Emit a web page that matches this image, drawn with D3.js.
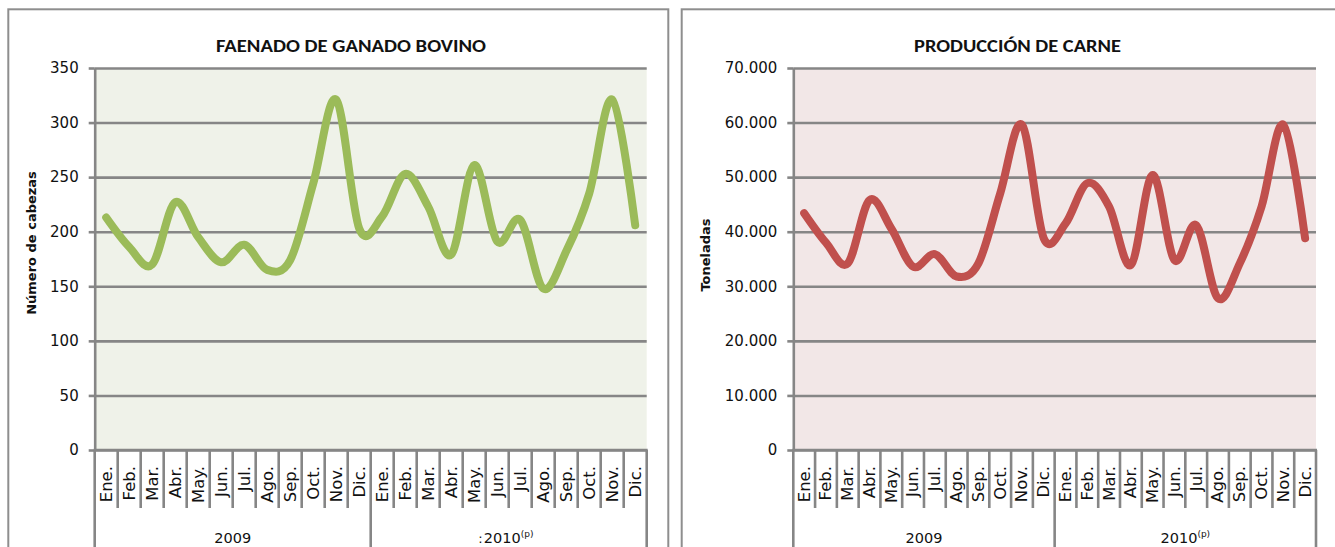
<!DOCTYPE html>
<html>
<head>
<meta charset="utf-8">
<script src="https://cdn.jsdelivr.net/npm/d3@7"></script>
<style>
  html, body { margin: 0; padding: 0; background: #ffffff; }
  svg { display: block; }
</style>
</head>
<body>
<svg id="chart" width="1335" height="547"></svg>
<script>
// ---- data ----
const months = ["Ene.","Feb.","Mar.","Abr.","May.","Jun.","Jul.","Ago.","Sep.","Oct.","Nov.","Dic."];
const years = ["2009", "2010"];
const faenado = [213,186,170,227,195,172,188,165,174,244,321,203, 214,253,223,179,261,191,211,148,182,235,321,206];
const carne = [43400,38000,34200,45800,40600,33600,35900,31800,34200,47000,59600,38800, 41500,48900,44600,33900,50400,34800,41200,27800,34200,44600,59600,38800];
const faenadoTicks = [0,50,100,150,200,250,300,350];
const carneTicks = [0,10000,20000,30000,40000,50000,60000,70000];
const titles = ["FAENADO DE GANADO BOVINO", "PRODUCCIÓN DE CARNE"];
const yTitles = ["Número de cabezas", "Toneladas"];

const locale = d3.formatLocale({decimal: ",", thousands: ".", grouping: [3], currency: ["", ""]});
const fmt = locale.format(",d");

const svg = d3.select("#chart");
const cats = [];
years.forEach(y => months.forEach(m => cats.push(y + "-" + m)));

const AX = "#868686";
const FONT = "'DejaVu Sans', Verdana, sans-serif";

function panel(cfg) {
  const g = svg.append("g");
  // border
  g.append("rect")
    .attr("x", cfg.bx).attr("y", cfg.by)
    .attr("width", cfg.br - cfg.bx).attr("height", 600)
    .attr("fill", "#fff").attr("stroke", "#8e8e8e").attr("stroke-width", 2);

  const x = d3.scaleBand().domain(cats).range([cfg.x0, cfg.x1]);
  const y = d3.scaleLinear().domain([0, cfg.ticks[cfg.ticks.length - 1]]).range([cfg.y1, cfg.y0]);
  const w = cfg.x1 - cfg.x0;

  g.append("rect").attr("x", cfg.x0).attr("y", cfg.y0)
    .attr("width", w).attr("height", cfg.y1 - cfg.y0).attr("fill", cfg.bg);

  // gridlines
  const grid = g.append("g").attr("transform", `translate(${cfg.x0},0)`)
    .call(d3.axisLeft(y).tickValues(cfg.ticks).tickSize(-w).tickFormat(""));
  grid.select(".domain").remove();
  grid.selectAll("line").attr("stroke", AX).attr("stroke-width", 2.6);

  // y axis
  const ya = g.append("g").attr("transform", `translate(${cfg.x0},0)`)
    .call(d3.axisLeft(y).tickValues(cfg.ticks).tickSize(6).tickSizeOuter(0).tickPadding(10).tickFormat(cfg.format));
  ya.select(".domain").attr("stroke", AX).attr("stroke-width", 2.6);
  ya.selectAll("line").attr("stroke", AX).attr("stroke-width", 2.6);
  ya.selectAll("text").attr("font-family", FONT)
    .attr("font-size", "15px").attr("fill", "#111");

  // x axis line
  g.append("line").attr("x1", cfg.x0 - 1).attr("x2", cfg.x1 + 1)
    .attr("y1", y(0)).attr("y2", y(0)).attr("stroke", AX).attr("stroke-width", 2.6);

  // category separators
  const bounds = cats.map(c => x(c)).concat([cfg.x1]);
  g.selectAll(".sep").data(bounds).join("line")
    .attr("x1", d => d).attr("x2", d => d)
    .attr("y1", y(0))
    .attr("y2", (d, i) => (i % 12 === 0) ? 560 : cfg.y1 + 58)
    .attr("stroke", AX).attr("stroke-width", 2.6);

  // month labels
  g.selectAll(".mlab").data(cats).join("text")
    .attr("transform", d => `translate(${x(d) + x.bandwidth() / 2},${cfg.y1 + 16}) rotate(-90) scale(1.1,1)`)
    .attr("text-anchor", "end").attr("dy", "0.36em")
    .attr("font-family", FONT).attr("font-size", "15px").attr("fill", "#111")
    .text(d => d.split("-")[1]);

  // year labels
  years.forEach((yr, i) => {
    const xs = x(yr + "-" + months[0]);
    const xe = i === years.length - 1 ? cfg.x1 : x(years[i + 1] + "-" + months[0]);
    const t = g.append("text").attr("x", (xs + xe) / 2).attr("y", 543)
      .attr("text-anchor", "middle").attr("font-family", FONT)
      .attr("font-size", "14.5px").attr("fill", "#111");
    t.append("tspan").text(yr);
    if (i === 1) {
      t.append("tspan").attr("font-size", "9px").attr("dy", "-6").text("(p)");
    }
  });

  // line
  const line = d3.line()
    .x((d, i) => x(cats[i]) + x.bandwidth() / 2)
    .y(d => y(d))
    .curve(d3.curveCardinal.tension(0));
  g.append("path").datum(cfg.data).attr("d", line)
    .attr("fill", "none").attr("stroke", cfg.color).attr("stroke-width", 8)
    .attr("stroke-linecap", "round").attr("stroke-linejoin", "round");

  // title
  g.append("text").attr("x", cfg.tx).attr("y", 51.7)
    .attr("font-family", "Carlito, Lato, sans-serif").attr("font-weight", "bold")
    .attr("font-size", "17px").attr("fill", "#111")
    .attr("textLength", cfg.tl).attr("lengthAdjust", "spacingAndGlyphs")
    .text(cfg.title);

  // y title
  g.append("text").attr("transform", `translate(${cfg.ytx},${cfg.yty}) rotate(-90)`)
    .attr("text-anchor", "middle").attr("dy", "0.35em")
    .attr("font-family", FONT).attr("font-weight", "bold")
    .attr("font-size", "13px").attr("fill", "#111")
    .text(cfg.ytitle);

  return {g, x, y};
}

const left = panel({
  bx: 8.3, by: 9.3, br: 668.3,
  x0: 94.7, x1: 646.7, y0: 68, y1: 450,
  ticks: faenadoTicks, format: d3.format("d"),
  bg: "#eff2e9", color: "#9bbb59", data: faenado,
  title: titles[0], tx: 216, tl: 270,
  ytitle: yTitles[0], ytx: 31, yty: 243
});
// small colon mark preceding the 2010 label in the first chart
left.g.append("text").attr("x", 480.5).attr("y", 543).attr("text-anchor", "middle")
  .attr("font-family", FONT).attr("font-size", "13px").attr("fill", "#111").text(":");

panel({
  bx: 681.7, by: 9.3, br: 1345,
  x0: 793.3, x1: 1316, y0: 68, y1: 450,
  ticks: carneTicks, format: fmt,
  bg: "#f2e7e7", color: "#c0504d", data: carne,
  title: titles[1], tx: 914, tl: 207,
  ytitle: yTitles[1], ytx: 705, yty: 255
});
</script>
</body>
</html>
